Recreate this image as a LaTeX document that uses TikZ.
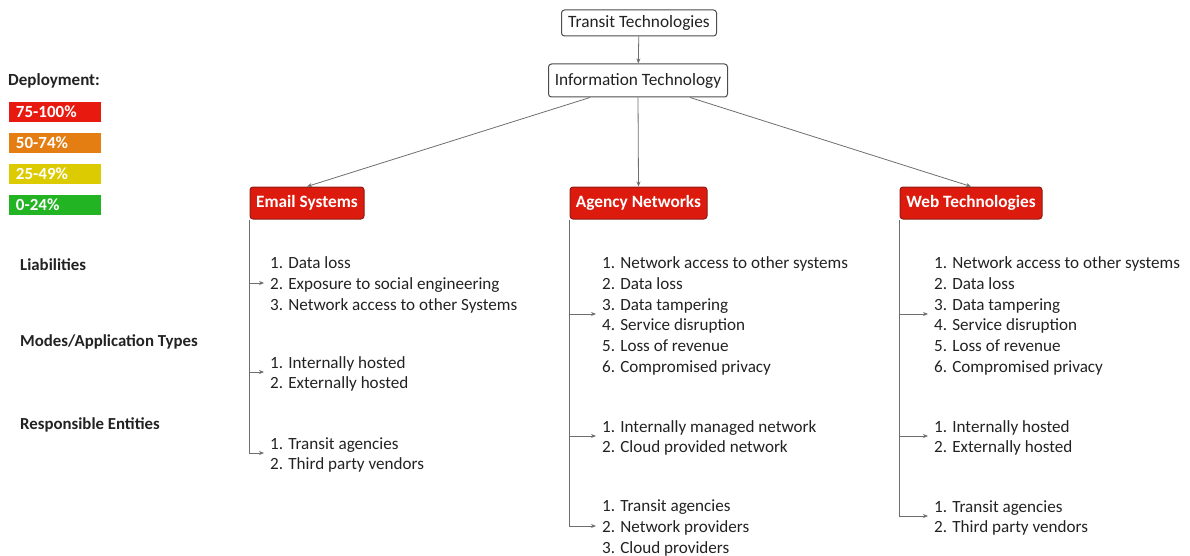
\documentclass[tikz,border=0pt]{standalone}
\usepackage{fontspec}
\setmainfont{Carlito}
\usetikzlibrary{arrows.meta,calc}
\definecolor{hred}{HTML}{DD1A0E}
\definecolor{hborder}{HTML}{8E1B12}
\definecolor{lred}{HTML}{E8190F}
\definecolor{lorange}{HTML}{E57E12}
\definecolor{lyellow}{HTML}{DCCB00}
\definecolor{lgreen}{HTML}{22B422}
\definecolor{conncol}{HTML}{6E6E6E}
\definecolor{txt}{HTML}{222222}
\begin{document}
\begin{tikzpicture}[x=1pt,y=-1pt,
  topbox/.style={draw=black!70,line width=1pt,rounded corners=3pt,fill=white,inner sep=0pt,font=\fontsize{17.3}{20}\selectfont,text=txt},
  headbox/.style={draw=hborder,line width=1pt,rounded corners=3pt,fill=hred,inner sep=0pt,minimum height=32pt,font=\bfseries\fontsize{17.3}{20}\selectfont,text=white},
  legbox/.style={inner xsep=7pt,inner ysep=0pt,minimum height=20pt,text width=78pt,align=left,font=\bfseries\fontsize{17}{20}\selectfont,text=white},
  listnode/.style={anchor=west,align=left,inner xsep=6pt,inner ysep=0pt,font=\fontsize{17.1}{20.7}\selectfont,text=txt},
  sidelabel/.style={anchor=west,inner sep=0pt,font=\bfseries\fontsize{16.8}{19}\selectfont,text=txt},
  conn/.style={draw=conncol,line width=0.8pt,-{Stealth[length=5pt,width=4pt]}}
]
\useasboundingbox (0,0) rectangle (1190,556);

% top boxes
\node[topbox,minimum width=155pt,minimum height=26pt] (tt) at (639,23) {Transit Technologies};
\node[topbox,minimum width=179pt,minimum height=33pt] (it) at (638,80.5) {Information Technology};

% heading boxes
\node[headbox,minimum width=114pt] (es) at (307,203) {Email Systems};
\node[headbox,minimum width=137pt] (an) at (638.5,203) {Agency Networks};
\node[headbox,minimum width=142pt] (wt) at (971,203) {Web Technologies};

\draw[conn] (tt) -- (it);
\draw[conn] ($(it.south west)+(42,0)$) -- (es.north);
\draw[conn] (it.south) -- (an.north);
\draw[conn] ($(it.south west)+(142,0)$) -- (wt.north);

% legend
\node[anchor=west,inner sep=0pt,font=\bfseries\fontsize{17}{20}\selectfont,text=txt] (dep) at (8,81) {Deployment:};
\node[legbox,fill=lred] (d1) at (55,112) {75-100\%};
\node[legbox,fill=lorange] (d2) at (55,143) {50-74\%};
\node[legbox,fill=lyellow] (d3) at (55,174) {25-49\%};
\node[legbox,fill=lgreen] (d4) at (55,205) {0-24\%};

% side labels
\node[sidelabel] (lia) at (20,265) {Liabilities};
\node[sidelabel] (mod) at (20,342) {Modes/Application Types};
\node[sidelabel] (res) at (20,425) {Responsible Entities};

% Email lists
\node[listnode] (el) at (264,285) {1. Data loss\\2. Exposure to social engineering\\3. Network access to other Systems};
\node[listnode] (em) at (264,374) {1. Internally hosted\\2. Externally hosted};
\node[listnode] (er) at (264,455) {1. Transit agencies\\2. Third party vendors};

% Agency lists
\node[listnode] (al) at (596,316) {1. Network access to other systems\\2. Data loss\\3. Data tampering\\4. Service disruption\\5. Loss of revenue\\6. Compromised privacy};
\node[listnode] (am) at (596,438) {1. Internally managed network\\2. Cloud provided network};
\node[listnode] (ar) at (596,528) {1. Transit agencies\\2. Network providers\\3. Cloud providers};

% Web lists
\node[listnode] (wl) at (928,316) {1. Network access to other systems\\2. Data loss\\3. Data tampering\\4. Service disruption\\5. Loss of revenue\\6. Compromised privacy};
\node[listnode] (wm) at (928,438) {1. Internally hosted\\2. Externally hosted};
\node[listnode] (wr) at (928,518) {1. Transit agencies\\2. Third party vendors};

% arrow targets
\foreach \n in {el,em,er,al,am,ar,wl,wm,wr}{
  \coordinate (\n p) at ([yshift=2pt]\n.west);
}

% branches
\draw[conn] (es.south west) |- (erp);
\draw[conn] (es.south west |- elp) -- (elp);
\draw[conn] (es.south west |- emp) -- (emp);

\draw[conn] (an.south west) |- (arp);
\draw[conn] (an.south west |- alp) -- (alp);
\draw[conn] (an.south west |- amp) -- (amp);

\draw[conn] (wt.south west) |- (wrp);
\draw[conn] (wt.south west |- wlp) -- (wlp);
\draw[conn] (wt.south west |- wmp) -- (wmp);
\end{tikzpicture}
\end{document}
